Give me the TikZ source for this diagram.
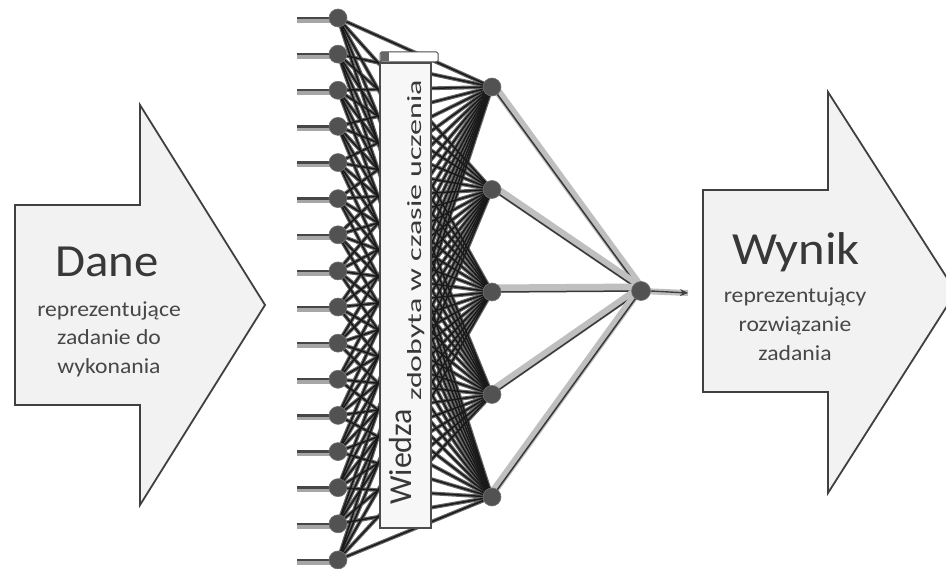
\documentclass[tikz,border=0pt]{standalone}
\usepackage{fontspec}
\setmainfont{Carlito}
\usetikzlibrary{arrows.meta,backgrounds}
\begin{document}
\begin{tikzpicture}[x=1pt,y=-1pt,
  bigarrow/.style={draw=black!75, line width=1.8pt, fill=black!5, line join=miter},
  neuron/.style={circle, fill=black!68, draw=black!55, line width=0.6pt, inner sep=0pt, minimum size=18pt},
  link/.style={draw=black!90, line width=1.5pt},
  linkshade/.style={draw=black!60, line width=3.8pt},
  band/.style={draw=black!25, line width=8pt},
  bandline/.style={draw=black!78, line width=1.5pt},
  stub/.style={draw=black!72, line width=2.4pt},
  stubshade/.style={draw=black!35, line width=5.5pt},
  lbl/.style={text=black!78, inner sep=0pt},
  sublbl/.style={text=black!72, inner sep=0pt, font=\fontsize{21.5}{21.5}\selectfont},
]
\useasboundingbox (0,0) rectangle (946,569);
\clip (0,0) rectangle (946,569);

% big arrows
\draw[bigarrow] (15,205) -- (140,205) -- (140,105) -- (265,305) -- (140,505) -- (140,405) -- (15,405) -- cycle;
\draw[bigarrow] (703,190) -- (828,190) -- (828,92) -- (956,292) -- (828,493) -- (828,392) -- (703,392) -- cycle;

% arrow texts
\node[lbl, anchor=base, xscale=1.06] (dane) at (107,277) {\fontsize{46}{46}\selectfont Dane};
\node[sublbl, anchor=base, xscale=1.1] (d1) at (109,317) {reprezentujące};
\node[sublbl, anchor=base, xscale=1.1] (d2) at (109,345) {zadanie do};
\node[sublbl, anchor=base, xscale=1.1] (d3) at (109,374) {wykonania};

\node[lbl, anchor=base, xscale=1.1] (wynik) at (796,265) {\fontsize{46}{46}\selectfont Wynik};
\node[sublbl, anchor=base, xscale=1.1] (w1) at (795,303) {reprezentujący};
\node[sublbl, anchor=base, xscale=1.1] (w2) at (795,332) {rozwiązanie};
\node[sublbl, anchor=base, xscale=1.1] (w3) at (795,361) {zadania};

% neurons
\foreach \i in {1,...,16}{
  \pgfmathsetmacro\yy{18+(\i-1)*36.13}
  \node[neuron] (in\i) at (338,\yy) {};
  \coordinate (s\i) at (297,\yy);
}
\foreach \j in {1,...,5}{
  \pgfmathsetmacro\yy{87+(\j-1)*102.5}
  \node[neuron] (h\j) at (492,\yy) {};
}
\node[neuron, minimum size=19pt] (out) at (641,291) {};
\coordinate (end) at (688,293);

\begin{pgfonlayer}{background}
  \fill[white] (0,0) rectangle (946,569);
  \foreach \i in {1,...,16}{\foreach \j in {1,...,5}{\draw[linkshade] (in\i.center) -- (h\j.center);}}
  \foreach \i in {1,...,16}{\foreach \j in {1,...,5}{\draw[link] (in\i.center) -- (h\j.center);}}
  \foreach \i in {1,...,16}{
    \draw[stubshade] ([yshift=-2pt]s\i) -- ([yshift=-2pt]in\i.center);
    \draw[stub] (s\i) -- (in\i.center);
  }
  \foreach \j in {1,...,5}{
    \draw[band] ([yshift=3.5pt]h\j.center) -- ([yshift=3.5pt]out.center);
    \draw[bandline] (h\j.center) -- (out.center);
  }
  \draw[band, line width=6pt] (out.center) -- (end);
\end{pgfonlayer}
\draw[-{Stealth[length=8pt,width=7pt]}, black!75, line width=1.4pt] (out.east) -- (end);

% knowledge box
\draw[black!70, line width=1pt, fill=white, rounded corners=1.5pt] (380,52) rectangle (438,62);
\fill[black!60] (380.5,52.5) rectangle (389,61.5);
\draw[black!70, line width=1.2pt, fill=black!3] (380,63) rectangle (431,528);
\node[lbl, rotate=90, anchor=base west] (wiedza) at (411,505) {\fontsize{32}{32}\selectfont Wiedza};
\node[lbl, rotate=90, anchor=base west] (zdob) at (421,401) {\resizebox{321pt}{14pt}{\fontsize{21}{21}\selectfont zdobyta w czasie uczenia}};
\end{tikzpicture}
\end{document}
